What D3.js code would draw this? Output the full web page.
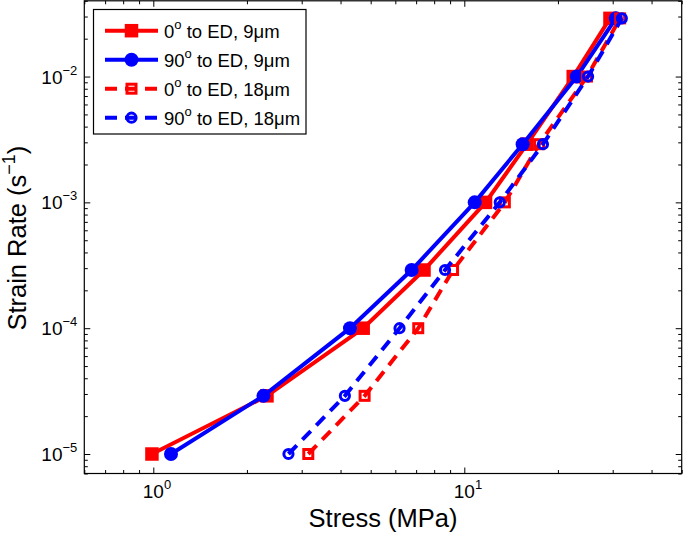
<!DOCTYPE html>
<html><head><meta charset="utf-8">
<script src="https://cdn.jsdelivr.net/npm/d3@7"></script>
<style>body{margin:0;background:#fff}svg{display:block}text{font-family:"Liberation Sans",Arial,Helvetica,sans-serif;fill:#000}</style>
</head><body><svg id="c" width="685" height="535"></svg>
<script>
// ---- data ----
const strainRates = [1e-5, 2.9e-5, 1e-4, 2.9e-4, 1e-3, 2.9e-3, 1e-2, 2.9e-2];
const stress0deg9um  = [0.99, 2.32, 4.73, 7.42, 11.7, 15.9, 22.4, 29.4];
const stress90deg9um = [1.14, 2.26, 4.29, 6.77, 10.8, 15.4, 23.0, 30.7];
const stress0deg18um = [3.15, 4.78, 7.11, 9.20, 13.5, 17.4, 24.8, 31.7];
const stress90deg18um= [2.72, 4.13, 6.19, 8.67, 13.0, 17.9, 25.0, 32.1];
const seriesNames = [
  ["0","o"," to ED, 9\u03bcm"],
  ["90","o"," to ED, 9\u03bcm"],
  ["0","o"," to ED, 18\u03bcm"],
  ["90","o"," to ED, 18\u03bcm"]
];
const xMajorTicks = [1, 10];
const xMajorExp = ["0", "1"];
const yMajorTicks = [1e-5, 1e-4, 1e-3, 1e-2];
const yMajorExp = ["\u22125", "\u22124", "\u22123", "\u22122"];
const xLabel = "Stress (MPa)";
const yLabelMain = "Strain Rate (s";
const yLabelExp = "\u22121";
const xDomain = [0.6, 50];
const yDomain = [7e-6, 0.04];

// ---- styles ----
const series = [
  {x: stress0deg9um,  color: "#ff0000", dash: null,  marker: "square", filled: true,  name: seriesNames[0]},
  {x: stress90deg9um, color: "#0000ff", dash: null,  marker: "circle", filled: true,  name: seriesNames[1]},
  {x: stress0deg18um, color: "#ff0000", dash: "12,8", marker: "square", filled: false, name: seriesNames[2]},
  {x: stress90deg18um,color: "#0000ff", dash: "12,8", marker: "circle", filled: false, name: seriesNames[3]}
];

const svg = d3.select("#c");
const L = 84.3, R = 681.7, T = 0.8, B = 473.5;
const x = d3.scaleLog().domain(xDomain).range([L, R]);
const y = d3.scaleLog().domain(yDomain).range([B, T]);

function minorTicks(dom){
  const out=[];
  const e0=Math.floor(Math.log10(dom[0])), e1=Math.ceil(Math.log10(dom[1]));
  for(let e=e0;e<=e1;e++) for(let m=2;m<=9;m++){const v=m*Math.pow(10,e); if(v>=dom[0]*0.999&&v<=dom[1]*1.001) out.push(v);}
  return out;
}
const xMinor = minorTicks(xDomain), yMinor = minorTicks(yDomain);

const axG = svg.append("g");
function drawAxis(gen, transform, vals, size){
  const g = axG.append("g").attr("transform", transform)
    .call(gen.tickValues(vals).tickSize(size).tickFormat(""));
  g.select(".domain").remove();
  g.selectAll(".tick line").attr("stroke","#000").attr("stroke-width",1);
}
drawAxis(d3.axisBottom(x), `translate(0,${B})`, xMajorTicks, -6);
drawAxis(d3.axisBottom(x), `translate(0,${B})`, xMinor, -3.5);
drawAxis(d3.axisTop(x), `translate(0,${T})`, xMajorTicks, -6);
drawAxis(d3.axisTop(x), `translate(0,${T})`, xMinor, -3.5);
drawAxis(d3.axisLeft(y), `translate(${L},0)`, yMajorTicks, -6);
drawAxis(d3.axisLeft(y), `translate(${L},0)`, yMinor, -3.5);
drawAxis(d3.axisRight(y), `translate(${R},0)`, yMajorTicks, -6);
drawAxis(d3.axisRight(y), `translate(${R},0)`, yMinor, -3.5);

axG.append("rect").attr("x",L).attr("y",T).attr("width",R-L).attr("height",B-T)
  .attr("fill","none").attr("stroke","#000").attr("stroke-width",1.2);

// tick labels
const xl = svg.append("g");
xMajorTicks.forEach((v,i)=>{
  const t = xl.append("text").attr("x", x(v)-10.5).attr("y", B+24).attr("font-size",19);
  t.append("tspan").text("10");
  t.append("tspan").attr("dy",-9).attr("font-size",13).text(xMajorExp[i]);
});
yMajorTicks.forEach((v,i)=>{
  const t = xl.append("text").attr("x", L-7).attr("y", y(v)+7).attr("text-anchor","end").attr("font-size",19);
  t.append("tspan").text("10");
  t.append("tspan").attr("dy",-9).attr("font-size",13).text(yMajorExp[i]);
});

// axis labels
svg.append("text").attr("x",(L+R)/2).attr("y",527).attr("text-anchor","middle").attr("font-size",25.5).text(xLabel);
const yl = svg.append("text").attr("transform",`translate(26,${(T+B)/2+1}) rotate(-90)`).attr("text-anchor","middle").attr("font-size",25.5);
yl.append("tspan").text(yLabelMain);
yl.append("tspan").attr("dy",-11).attr("font-size",18).text(yLabelExp);
yl.append("tspan").attr("dy",11).text(")");

// series
const line = d3.line().x(d=>x(d[0])).y(d=>y(d[1]));
function drawMarker(g, s, cx, cy){
  if(s.marker==="square"){
    const a = s.filled ? 13.5 : 9;
    g.append("rect").attr("x",cx-a/2).attr("y",cy-a/2).attr("width",a).attr("height",a)
      .attr("fill", s.filled ? s.color : "none").attr("stroke", s.filled ? "none" : s.color).attr("stroke-width",3);
  } else {
    const r = s.filled ? 7 : 4.6;
    g.append("circle").attr("cx",cx).attr("cy",cy).attr("r",r)
      .attr("fill", s.filled ? s.color : "none").attr("stroke", s.filled ? "none" : s.color).attr("stroke-width",3);
  }
}
const plot = svg.append("g");
series.forEach(s=>{
  const pts = s.x.map((v,i)=>[v, strainRates[i]]);
  const g = plot.append("g");
  g.append("path").attr("d", line(pts)).attr("fill","none").attr("stroke",s.color)
    .attr("stroke-width",4).attr("stroke-dasharray", s.dash);
  pts.forEach(p=>drawMarker(g, s, x(p[0]), y(p[1])));
});

// legend
const lg = svg.append("g");
lg.append("rect").attr("x",93.5).attr("y",9.5).attr("width",212.5).attr("height",124.5)
  .attr("fill","#fff").attr("stroke","#000").attr("stroke-width",1.2);
series.forEach((s,i)=>{
  const yy = 30.7 + i*29;
  lg.append("line").attr("x1",105).attr("x2",158).attr("y1",yy).attr("y2",yy)
    .attr("stroke",s.color).attr("stroke-width",4).attr("stroke-dasharray", s.dash);
  drawMarker(lg, s, 131.5, yy);
  const t = lg.append("text").attr("x",164).attr("y",yy+7).attr("font-size",18.5);
  t.append("tspan").text(s.name[0]);
  t.append("tspan").attr("dy",-9).attr("font-size",13).text(s.name[1]);
  t.append("tspan").attr("dy",9).text(s.name[2]);
});
</script></body></html>
